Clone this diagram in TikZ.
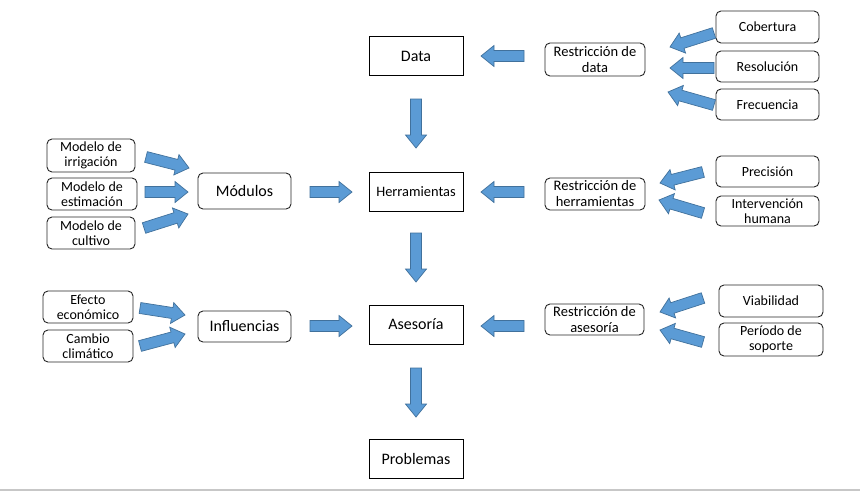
\documentclass[tikz,border=0pt]{standalone}
\usepackage{fontspec}
\setmainfont{Carlito}
\usetikzlibrary{calc}
\definecolor{afill}{RGB}{91,155,213}
\definecolor{aline}{RGB}{65,113,156}
\newcommand\barrow[2]{%
  \coordinate (hb) at ($(#2)!13pt!(#1)$);
  \draw[blockarrow] ($(#1)!5.5pt!90:(#2)$) -- ($(hb)!5.5pt!-90:(#1)$) -- ($(hb)!10.5pt!-90:(#1)$) -- (#2)
    -- ($(hb)!10.5pt!90:(#1)$) -- ($(hb)!5.5pt!90:(#1)$) -- ($(#1)!5.5pt!-90:(#2)$) -- cycle;
}
\begin{document}
\begin{tikzpicture}[x=1pt,y=-1pt,
  mainbox/.style={draw=black, line width=1pt, inner sep=0pt, minimum width=94pt, minimum height=39pt, font=\fontsize{16}{18}\selectfont},
  rbox/.style={draw=black!85, line width=0.9pt, rounded corners=5pt, inner sep=0pt, align=center, font=\fontsize{14}{15.5}\selectfont},
  resbox/.style={rbox, font=\fontsize{14.5}{16}\selectfont},
  blockarrow/.style={fill=afill, draw=aline, line width=0.7pt, line join=miter}]
\useasboundingbox (0,0) rectangle (860,491);
\fill[white] (0,0) rectangle (860,491);
\draw[black!22, line width=1.2pt] (0,490) -- (860,490);

% central column
\node[mainbox] (data) at (416,56) {Data};
\node[mainbox, font=\fontsize{14.4}{16}\selectfont] (herr) at (416,191.5) {Herramientas};
\node[mainbox] (ases) at (416,324.5) {Asesoría};
\node[mainbox] (prob) at (416,458.5) {Problemas};

% left
\node[rbox, minimum width=93pt, minimum height=36pt, font=\fontsize{16}{18}\selectfont] (mod) at (244.5,191) {Módulos};
\node[rbox, minimum width=93pt, minimum height=31pt, font=\fontsize{16}{18}\selectfont] (infl) at (244.5,326.5) {Influencias};
\node[rbox, minimum width=88pt, minimum height=33pt] (irr) at (91,155.5) {Modelo de\\irrigación};
\node[rbox, minimum width=90pt, minimum height=32pt] (est) at (92,194) {Modelo de\\estimación};
\node[rbox, minimum width=88pt, minimum height=32pt] (cul) at (91,233) {Modelo de\\cultivo};
\node[rbox, minimum width=90pt, minimum height=32pt] (efe) at (88,307) {Efecto\\económico};
\node[rbox, minimum width=90pt, minimum height=32pt] (cam) at (88,346) {Cambio\\climático};

% right
\node[resbox, minimum width=100pt, minimum height=33pt] (rdat) at (595,59.5) {Restricción de\\data};
\node[resbox, minimum width=100pt, minimum height=32pt] (rher) at (595,194) {Restricción de\\herramientas};
\node[resbox, minimum width=99pt, minimum height=31pt] (rase) at (594.5,319.5) {Restricción de\\asesoría};
\node[rbox, minimum width=103pt, minimum height=32pt] (cob) at (767.5,27) {Cobertura};
\node[rbox, minimum width=103pt, minimum height=31pt] (res) at (767.5,66.5) {Resolución};
\node[rbox, minimum width=103pt, minimum height=31pt] (fre) at (767.5,104.5) {Frecuencia};
\node[rbox, minimum width=103pt, minimum height=31pt] (pre) at (767.5,171.5) {Precisión};
\node[rbox, minimum width=103pt, minimum height=30pt] (int) at (767.5,211) {Intervención\\humana};
\node[rbox, minimum width=104pt, minimum height=32pt] (via) at (771,301) {Viabilidad};
\node[rbox, minimum width=104pt, minimum height=33pt] (per) at (771,339.5) {Período de\\soporte};

% arrow end points
\coordinate (d1t) at (416,99);  \coordinate (d1h) at (416,148);
\coordinate (d2t) at (416,233); \coordinate (d2h) at (416,282);
\coordinate (d3t) at (416,368); \coordinate (d3h) at (416,417);
\coordinate (l1t) at (524,56);  \coordinate (l1h) at (481,56);
\coordinate (l2t) at (524,192); \coordinate (l2h) at (481,192);
\coordinate (l3t) at (524,326); \coordinate (l3h) at (481,326);
\coordinate (r1t) at (310,192); \coordinate (r1h) at (352,192);
\coordinate (r2t) at (310,326); \coordinate (r2h) at (352,326);
\coordinate (cobt) at (714,33);  \coordinate (cobh) at (670,47);
\coordinate (rest) at (714,68);  \coordinate (resh) at (670,68);
\coordinate (fret) at (714,105); \coordinate (freh) at (668,92);
\coordinate (pret) at (703,172); \coordinate (preh) at (660,183);
\coordinate (intt) at (703,213); \coordinate (inth) at (659,200);
\coordinate (viat) at (703,298); \coordinate (viah) at (660,312);
\coordinate (pert) at (703,342); \coordinate (perh) at (660,330);
\coordinate (irrt) at (146,157); \coordinate (irrh) at (189,168);
\coordinate (estt) at (145,192); \coordinate (esth) at (188,192);
\coordinate (cult) at (144,228); \coordinate (culh) at (188,214);
\coordinate (efet) at (140,308); \coordinate (efeh) at (185,315);
\coordinate (camt) at (140,346); \coordinate (camh) at (185,334);

\foreach \a in {d1,d2,d3,l1,l2,l3,r1,r2,cob,res,fre,pre,int,via,per,irr,est,cul,efe,cam}
  {\barrow{\a t}{\a h}}
\end{tikzpicture}
\end{document}
